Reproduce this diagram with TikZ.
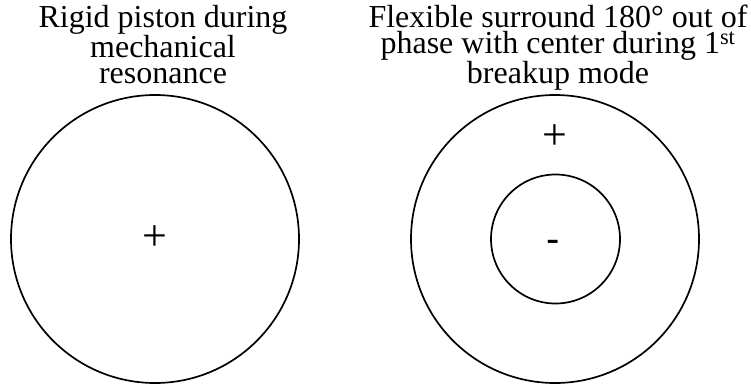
\documentclass[tikz,border=0pt]{standalone}
\usepackage{fontspec}
\setmainfont{Liberation Serif}
\setsansfont{Liberation Sans}

\begin{document}
\begin{tikzpicture}[x=1pt,y=-1pt,line width=1.7pt,
  heading/.style={align=center,inner sep=0pt,anchor=north,font=\fontsize{32}{26.5}\selectfont},
  cone/.style={circle,draw,inner sep=0pt},
  sign/.style={inner sep=0pt,font=\fontsize{44}{44}\selectfont}]
\useasboundingbox (0,0) rectangle (751,383);
\node[heading] (pistontitle) at (163,4) {Rigid piston during\\mechanical\\resonance};
\node[heading] (surroundtitle) at (558,4) {Flexible surround 180° out of\\phase with center during 1\textsuperscript{st}\\breakup mode};
\node[cone,minimum size=288pt] (piston) at (155,239) {};
\node[cone,minimum size=288pt] (surround) at (555,239) {};
\node[cone,minimum size=129pt] (center) at (555.5,239) {};
\node[sign] (pistonplus) at (155,238.5) {+};
\node[sign] (surroundplus) at (555,137.5) {+};
\node[sign,font=\sffamily\fontsize{40}{40}\selectfont] (centerminus) at (553,246) {-};
\end{tikzpicture}
\end{document}
